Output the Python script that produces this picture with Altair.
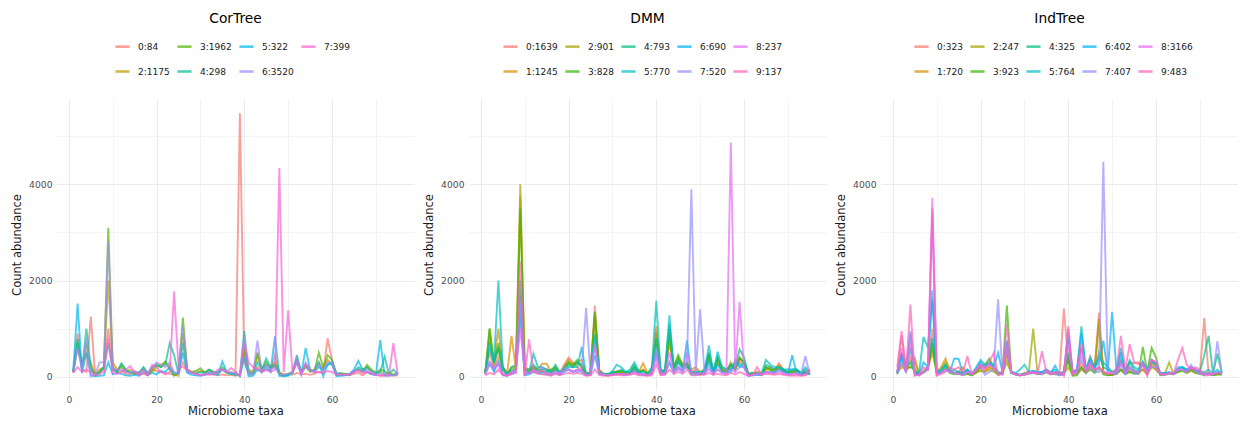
import altair as alt
import pandas as pd

TAXA = list(range(1, 76))

# ---------------- CorTree ----------------
cor_labels = ["0:84", "2:1175", "3:1962", "4:298", "5:322", "6:3520", "7:399"]
cor_colors = ["#F8766D", "#C49A00", "#53B400", "#00C094", "#00B6EB", "#A58AFF", "#FB61D7"]
cor_legend_order = ["0:84", "3:1962", "5:322", "7:399", "2:1175", "4:298", "6:3520"]

cor_0 = [100, 900, 150, 100, 1250, 50, 80, 150, 1000, 150,
         100, 120, 60, 50, 80, 40, 60, 30, 150, 120,
         100, 80, 60, 40, 60, 300, 100, 80, 60, 40,
         50, 60, 40, 30, 50, 30, 40, 20, 5480, 300,
         80, 60, 200, 100, 150, 120, 450, 80, 50, 60,
         40, 80, 50, 60, 40, 60, 100, 80, 800, 350,
         40, 30, 40, 30, 60, 80, 30, 100, 60, 40,
         20, 30, 40, 20, 30]
cor_2 = [100, 600, 250, 500, 300, 50, 150, 200, 2000, 300,
         150, 200, 100, 150, 80, 100, 150, 60, 100, 200,
         250, 300, 200, 50, 20, 900, 150, 100, 80, 120,
         100, 120, 80, 100, 150, 80, 100, 60, 30, 500,
         150, 100, 450, 150, 250, 200, 300, 100, 30, 60,
         100, 350, 80, 250, 100, 150, 300, 150, 350, 250,
         60, 50, 60, 40, 100, 150, 120, 200, 120, 80,
         100, 60, 80, 50, 40]
cor_3 = [100, 700, 200, 700, 150, 30, 100, 200, 3100, 200,
         100, 250, 120, 100, 60, 80, 180, 50, 150, 250,
         200, 320, 150, 20, 80, 1230, 150, 100, 120, 180,
         80, 150, 100, 80, 200, 100, 60, 50, 20, 600,
         100, 80, 500, 150, 300, 150, 250, 60, 30, 50,
         80, 380, 100, 250, 150, 120, 500, 200, 450, 350,
         50, 80, 60, 40, 120, 150, 100, 250, 150, 80,
         150, 120, 60, 40, 80]
cor_4 = [100, 780, 150, 1000, 200, 30, 100, 200, 700, 150,
         100, 280, 150, 80, 100, 60, 200, 80, 200, 250,
         200, 250, 700, 450, 60, 700, 120, 80, 60, 100,
         80, 150, 100, 60, 150, 80, 60, 40, 50, 950,
         50, 60, 300, 150, 380, 200, 250, 50, 20, 40,
         100, 450, 80, 200, 120, 100, 200, 150, 250, 300,
         80, 60, 50, 40, 100, 200, 150, 200, 100, 60,
         100, 420, 60, 150, 60]
cor_5 = [120, 1520, 80, 500, 30, 10, 20, 30, 300, 50,
         80, 60, 30, 20, 40, 20, 100, 40, 80, 50,
         120, 100, 200, 60, 100, 500, 80, 40, 30, 20,
         40, 80, 60, 40, 320, 100, 60, 80, 10, 400,
         10, 20, 150, 100, 200, 100, 840, 20, 10, 20,
         80, 300, 50, 600, 150, 100, 300, 10, 250, 280,
         10, 20, 30, 60, 150, 330, 150, 100, 50, 40,
         760, 30, 20, 40, 60]
cor_6 = [80, 600, 150, 800, 10, 50, 300, 300, 2800, 150,
         150, 150, 100, 80, 120, 80, 150, 80, 200, 300,
         250, 200, 300, 100, 60, 1050, 100, 80, 60, 40,
         60, 100, 80, 60, 150, 100, 80, 60, 30, 850,
         60, 50, 750, 100, 250, 150, 200, 50, 40, 60,
         80, 400, 60, 300, 150, 100, 250, 150, 300, 300,
         60, 50, 40, 60, 120, 150, 100, 150, 100, 60,
         50, 60, 30, 40, 50]
cor_7 = [80, 200, 100, 150, 100, 30, 50, 100, 800, 80,
         60, 100, 150, 220, 100, 30, 100, 30, 250, 200,
         100, 50, 100, 1770, 200, 200, 150, 100, 50, 30,
         50, 40, 60, 150, 150, 100, 180, 100, 20, 700,
         300, 200, 150, 100, 150, 100, 150, 4340, 100, 1380,
         100, 300, 50, 250, 150, 100, 100, 80, 120, 100,
         50, 40, 50, 40, 100, 120, 80, 100, 60, 40,
         30, 20, 30, 700, 50]
cor_series = [cor_0, cor_2, cor_3, cor_4, cor_5, cor_6, cor_7]

# ---------------- DMM ----------------
dmm_labels = ["0:1639", "1:1245", "2:901", "3:828", "4:793", "5:770", "6:690", "7:520", "8:237", "9:137"]
hue10 = ["#F8766D", "#D89000", "#A3A500", "#39B600", "#00BF7D", "#00BFC4", "#00B0F6", "#9590FF", "#E76BF3", "#FF62BC"]
dmm_legend_order = ["0:1639", "2:901", "4:793", "6:690", "8:237", "1:1245", "3:828", "5:770", "7:520", "9:137"]

dmm_0 = [80, 500, 150, 400, 50, 30, 100, 150, 1700, 100,
         80, 200, 120, 100, 100, 50, 150, 80, 250, 400,
         300, 200, 150, 60, 100, 1480, 100, 50, 30, 60,
         100, 80, 60, 50, 100, 80, 150, 60, 100, 950,
         150, 100, 700, 150, 300, 200, 250, 100, 150, 80,
         100, 400, 80, 300, 150, 100, 200, 150, 350, 300,
         50, 60, 80, 60, 150, 200, 150, 280, 150, 100,
         80, 100, 60, 60, 50]
dmm_1 = [100, 800, 300, 1000, 200, 80, 850, 150, 3750, 200,
         150, 200, 150, 270, 270, 100, 150, 80, 200, 350,
         250, 300, 350, 80, 80, 1300, 150, 60, 40, 80,
         120, 100, 80, 80, 150, 100, 280, 80, 100, 1050,
         150, 100, 1000, 150, 350, 200, 300, 150, 200, 100,
         150, 500, 100, 350, 150, 100, 250, 200, 300, 250,
         60, 80, 100, 80, 200, 150, 150, 250, 120, 80,
         100, 150, 80, 100, 60]
dmm_2 = [80, 1000, 200, 600, 150, 50, 200, 200, 4000, 150,
         100, 150, 100, 150, 150, 80, 200, 60, 150, 300,
         200, 300, 200, 50, 80, 1250, 100, 50, 40, 80,
         100, 100, 80, 60, 200, 100, 150, 60, 80, 900,
         100, 80, 800, 200, 400, 250, 200, 100, 80, 60,
         100, 450, 80, 300, 150, 100, 300, 150, 400, 300,
         50, 80, 60, 40, 150, 150, 100, 200, 150, 80,
         120, 100, 60, 80, 50]
dmm_3 = [60, 1000, 300, 700, 200, 60, 150, 180, 3500, 150,
         100, 180, 120, 100, 100, 150, 200, 60, 200, 300,
         250, 350, 200, 40, 60, 1350, 120, 60, 50, 70,
         80, 120, 100, 80, 200, 80, 120, 60, 80, 700,
         100, 100, 900, 200, 450, 250, 250, 80, 80, 60,
         80, 400, 100, 400, 120, 100, 250, 150, 400, 300,
         40, 60, 50, 40, 200, 150, 100, 200, 100, 80,
         100, 120, 60, 100, 60]
dmm_4 = [100, 600, 300, 600, 150, 50, 200, 250, 2000, 150,
         150, 250, 150, 150, 150, 100, 250, 100, 150, 250,
         200, 300, 250, 60, 80, 850, 100, 60, 60, 100,
         100, 150, 100, 100, 250, 100, 120, 60, 200, 800,
         100, 150, 1100, 200, 350, 200, 300, 100, 100, 80,
         150, 500, 100, 400, 200, 150, 250, 200, 570, 400,
         60, 80, 60, 60, 250, 200, 150, 200, 150, 100,
         150, 150, 80, 150, 80]
dmm_5 = [100, 700, 300, 2000, 200, 20, 100, 150, 1500, 50,
         100, 480, 200, 200, 150, 100, 150, 80, 150, 200,
         200, 200, 620, 40, 60, 900, 80, 60, 40, 120,
         250, 200, 100, 150, 300, 120, 60, 40, 200, 1580,
         100, 150, 1280, 100, 300, 150, 200, 100, 100, 100,
         100, 650, 100, 520, 200, 150, 150, 300, 200, 300,
         30, 50, 80, 60, 350, 250, 200, 200, 150, 150,
         150, 150, 80, 200, 100]
dmm_6 = [60, 300, 100, 300, 50, 30, 50, 100, 1300, 30,
         50, 100, 80, 60, 50, 40, 80, 40, 100, 150,
         100, 150, 100, 30, 40, 450, 50, 40, 30, 40,
         60, 50, 40, 60, 150, 50, 40, 30, 80, 500,
         50, 60, 300, 80, 200, 100, 750, 50, 40, 50,
         60, 300, 60, 250, 100, 80, 100, 350, 250, 200,
         20, 30, 40, 30, 100, 100, 80, 150, 100, 60,
         450, 80, 40, 100, 50]
dmm_7 = [50, 250, 150, 300, 30, 20, 80, 150, 1550, 50,
         60, 150, 120, 200, 80, 60, 100, 80, 200, 150,
         120, 100, 150, 1430, 40, 700, 80, 40, 30, 40,
         60, 60, 40, 60, 100, 60, 50, 30, 50, 600,
         80, 60, 300, 100, 150, 100, 300, 3900, 100, 1400,
         80, 200, 60, 150, 80, 60, 150, 100, 200, 200,
         30, 40, 50, 40, 100, 80, 100, 150, 80, 60,
         60, 80, 60, 430, 50]
dmm_8 = [50, 300, 200, 250, 60, 30, 100, 150, 1000, 100,
         80, 120, 100, 120, 60, 50, 100, 60, 120, 150,
         100, 150, 120, 40, 40, 650, 80, 40, 30, 50,
         60, 60, 50, 60, 100, 60, 60, 40, 80, 400,
         60, 60, 500, 80, 200, 120, 500, 100, 60, 80,
         60, 150, 60, 150, 80, 60, 4870, 100, 1560, 200,
         30, 50, 60, 50, 100, 80, 60, 100, 60, 40,
         40, 60, 30, 40, 160]
dmm_9 = [30, 80, 50, 150, 40, 20, 60, 80, 2400, 20,
         780, 100, 60, 50, 40, 20, 60, 30, 60, 80,
         60, 80, 60, 20, 30, 150, 40, 20, 20, 30,
         40, 30, 30, 40, 60, 30, 30, 20, 30, 250,
         30, 40, 150, 60, 100, 60, 150, 30, 30, 40,
         40, 80, 40, 60, 40, 30, 80, 50, 100, 60,
         20, 30, 200, 40, 60, 50, 40, 60, 40, 30,
         20, 30, 20, 30, 150]
dmm_series = [dmm_0, dmm_1, dmm_2, dmm_3, dmm_4, dmm_5, dmm_6, dmm_7, dmm_8, dmm_9]

# ---------------- IndTree ----------------
ind_labels = ["0:323", "1:720", "2:247", "3:923", "4:325", "5:764", "6:402", "7:407", "8:3166", "9:483"]
ind_legend_order = ["0:323", "2:247", "4:325", "6:402", "8:3166", "1:720", "3:923", "5:764", "7:407", "9:483"]

ind_0 = [100, 850, 200, 400, 100, 50, 100, 200, 1000, 100,
         80, 150, 100, 80, 100, 60, 100, 50, 150, 200,
         150, 200, 150, 60, 80, 500, 100, 50, 30, 50,
         80, 100, 60, 60, 100, 60, 80, 60, 1420, 300,
         80, 100, 300, 100, 420, 150, 1330, 100, 50, 40,
         80, 300, 100, 300, 280, 270, 250, 50, 300, 200,
         50, 60, 80, 60, 150, 150, 100, 150, 120, 100,
         1220, 50, 40, 60, 50]
ind_1 = [80, 200, 150, 300, 400, 50, 100, 200, 500, 100,
         200, 380, 150, 80, 100, 200, 80, 50, 100, 150,
         100, 200, 150, 60, 80, 400, 100, 50, 40, 80,
         100, 100, 80, 80, 100, 60, 80, 60, 100, 400,
         80, 100, 200, 100, 250, 150, 1200, 100, 40, 40,
         80, 150, 60, 150, 100, 80, 150, 60, 200, 150,
         50, 60, 80, 60, 150, 150, 100, 150, 100, 80,
         80, 60, 40, 60, 80]
ind_2 = [100, 250, 150, 200, 300, 50, 80, 150, 600, 100,
         150, 300, 100, 80, 80, 100, 60, 30, 80, 120,
         100, 150, 100, 50, 60, 300, 80, 50, 40, 60,
         80, 1000, 60, 80, 100, 60, 80, 40, 50, 200,
         40, 60, 150, 80, 200, 100, 1100, 100, 40, 40,
         60, 150, 60, 100, 80, 80, 150, 60, 250, 150,
         50, 60, 300, 60, 100, 150, 80, 120, 80, 60,
         60, 80, 40, 50, 60]
ind_3 = [50, 500, 200, 200, 150, 30, 100, 200, 700, 100,
         80, 200, 80, 50, 60, 30, 60, 30, 100, 200,
         250, 380, 200, 50, 60, 1480, 80, 50, 30, 40,
         60, 80, 60, 50, 100, 50, 60, 40, 60, 350,
         20, 30, 200, 80, 150, 80, 200, 50, 30, 40,
         60, 150, 60, 100, 60, 60, 620, 100, 600, 400,
         30, 40, 60, 50, 100, 120, 80, 150, 80, 60,
         30, 80, 30, 50, 40]
ind_4 = [100, 450, 200, 300, 100, 50, 100, 200, 800, 100,
         100, 250, 100, 80, 100, 60, 100, 60, 150, 250,
         200, 300, 200, 60, 80, 600, 100, 60, 40, 60,
         80, 100, 80, 80, 150, 80, 100, 60, 100, 500,
         100, 100, 600, 200, 300, 150, 500, 200, 150, 100,
         100, 350, 100, 300, 150, 100, 300, 100, 300, 250,
         60, 80, 80, 60, 150, 200, 100, 200, 150, 100,
         450, 850, 60, 480, 80]
ind_5 = [100, 400, 100, 600, 50, 100, 830, 600, 1600, 100,
         150, 250, 100, 150, 100, 60, 150, 60, 200, 350,
         250, 300, 250, 100, 80, 700, 100, 80, 150, 250,
         100, 120, 100, 100, 150, 100, 150, 60, 100, 800,
         100, 150, 1050, 150, 400, 200, 400, 300, 200, 100,
         150, 600, 100, 350, 200, 150, 300, 150, 350, 250,
         60, 80, 80, 60, 150, 200, 150, 200, 150, 100,
         100, 150, 60, 150, 60]
ind_6 = [80, 450, 100, 900, 100, 50, 300, 200, 1800, 100,
         100, 150, 100, 380, 370, 60, 150, 50, 150, 300,
         200, 250, 200, 500, 100, 750, 100, 60, 40, 60,
         100, 120, 100, 100, 150, 80, 230, 60, 100, 900,
         100, 150, 900, 150, 350, 200, 300, 750, 100, 1350,
         100, 500, 80, 200, 100, 100, 300, 100, 350, 300,
         80, 80, 100, 60, 200, 200, 150, 200, 150, 100,
         50, 60, 40, 100, 80]
ind_7 = [60, 300, 100, 950, 50, 30, 100, 150, 3400, 50,
         80, 150, 100, 80, 60, 40, 100, 50, 150, 200,
         40, 100, 150, 1610, 30, 750, 80, 40, 30, 50,
         60, 80, 60, 50, 100, 60, 50, 30, 40, 1000,
         60, 80, 400, 100, 200, 100, 100, 4470, 100, 80,
         60, 250, 60, 200, 80, 60, 300, 80, 200, 200,
         50, 40, 60, 50, 150, 150, 100, 250, 100, 60,
         40, 60, 40, 740, 80]
ind_8 = [80, 600, 100, 700, 50, 30, 100, 200, 3720, 50,
         80, 150, 100, 80, 60, 40, 100, 50, 150, 250,
         200, 250, 200, 80, 50, 600, 100, 50, 30, 50,
         80, 100, 80, 60, 150, 80, 100, 50, 80, 700,
         80, 100, 600, 150, 300, 150, 200, 100, 80, 60,
         80, 300, 80, 200, 100, 100, 250, 100, 350, 300,
         60, 60, 80, 60, 150, 150, 100, 200, 150, 100,
         60, 80, 60, 80, 60]
ind_9 = [200, 950, 100, 1500, 20, 50, 200, 150, 3500, 20,
         60, 100, 200, 150, 200, 100, 430, 50, 150, 250,
         150, 300, 500, 30, 60, 1100, 100, 50, 30, 40,
         100, 80, 60, 530, 100, 50, 80, 100, 20, 1050,
         50, 150, 700, 100, 250, 150, 200, 100, 50, 100,
         150, 850, 150, 680, 300, 300, 250, 20, 350, 300,
         50, 50, 80, 60, 350, 600, 250, 150, 200, 150,
         30, 30, 60, 80, 60]
ind_series = [ind_0, ind_1, ind_2, ind_3, ind_4, ind_5, ind_6, ind_7, ind_8, ind_9]

X_TICKS = [0, 10, 20, 30, 40, 50, 60, 70]
Y_TICKS = [0, 1000, 2000, 3000, 4000, 5000]

FONT = "DejaVu Sans"
GRID = "#EBEBEB"


def make_panel(title, labels, series, colors, legend_order, ncol, legend_x):
    rows = []
    for lab, vals in zip(labels, series):
        for t, v in zip(TAXA, vals):
            rows.append({"taxa": t, "count": v, "cluster": lab})
    df = pd.DataFrame(rows)
    color_of = dict(zip(labels, colors))
    rng = [color_of[k] for k in legend_order]
    return (
        alt.Chart(df, title=alt.TitleParams(
            title, fontSize=13.8, font=FONT, fontWeight="normal", color="#000000",
            anchor="middle", frame="group", offset=12))
        .mark_line(strokeWidth=1.9, opacity=0.7)
        .encode(
            x=alt.X("taxa:Q", title="Microbiome taxa",
                    scale=alt.Scale(domain=[-2.7, 78.7], nice=False, zero=False),
                    axis=alt.Axis(values=X_TICKS, format="d",
                                  labelExpr="datum.value % 20 === 0 ? datum.label : ''",
                                  gridWidth={"condition": {"test": "datum.value % 20 === 0", "value": 1.1}, "value": 0.55})),
            y=alt.Y("count:Q", title="Count abundance",
                    scale=alt.Scale(domain=[-275, 5775], nice=False, zero=False),
                    axis=alt.Axis(values=Y_TICKS, format="d",
                                  labelExpr="datum.value % 2000 === 0 ? datum.label : ''",
                                  gridWidth={"condition": {"test": "datum.value % 2000 === 0", "value": 1.1}, "value": 0.55})),
            color=alt.Color("cluster:N",
                            scale=alt.Scale(domain=legend_order, range=rng),
                            legend=alt.Legend(
                                title=None, orient="none", legendX=legend_x, legendY=-61,
                                direction="horizontal", columns=ncol,
                                symbolType="stroke", symbolSize=200, symbolStrokeWidth=2.6,
                                symbolOpacity=0.7, labelFontSize=9, labelFont=FONT,
                                labelColor="#1A1A1A", labelOffset=7, rowPadding=11,
                                columnPadding=2, gridAlign="each")),
            detail="cluster:N",
        )
        .properties(width=357, height=291)
    )


p1 = make_panel("CorTree", cor_labels, cor_series, cor_colors, cor_legend_order, 4, 57)
p2 = make_panel("DMM", dmm_labels, dmm_series, hue10, dmm_legend_order, 5, 33)
p3 = make_panel("IndTree", ind_labels, ind_series, hue10, ind_legend_order, 5, 32)

chart = (
    alt.hconcat(p1, p2, p3, spacing=9)
    .resolve_scale(color="independent")
    .resolve_legend(color="independent")
    .properties(padding={"left": 11, "top": 12, "right": 0, "bottom": 0}, background="white")
    .configure_view(stroke=None)
    .configure_axis(
        domain=False, ticks=False, gridColor=GRID,
        labelFont=FONT, labelFontSize=9.2, labelColor="#4D4D4D", labelPadding=5,
        titleFont=FONT, titleFontSize=11.5, titleColor="#1A1A1A", titleFontWeight="normal",
    )
    .configure_axisX(titlePadding=1)
    .configure_axisY(titlePadding=6)
)

chart.save("out.html", embed_options={"renderer": "svg", "actions": False})
